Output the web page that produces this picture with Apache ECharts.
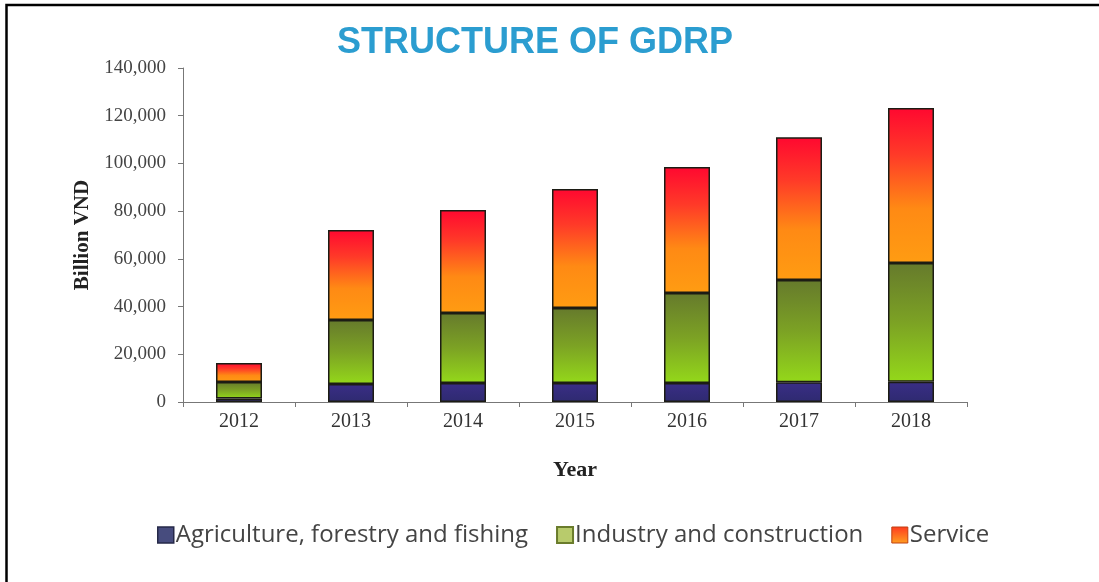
<!DOCTYPE html>
<html>
<head>
<meta charset="utf-8">
<script src="https://cdn.jsdelivr.net/npm/echarts@6/dist/echarts.min.js"></script>
<style>
html,body{margin:0;padding:0;background:#fff;}
#chart{width:1099px;height:582px;}
</style>
</head>
<body>
<div id="chart"></div>
<script>
const years = ['2012','2013','2014','2015','2016','2017','2018'];
const agriculture = [1500, 7500, 8000, 8000, 8000, 8300, 8500];
const industry = [6900, 26900, 29300, 31400, 37700, 42800, 49800];
const service = [7900, 37700, 43200, 49900, 52800, 59900, 64900];
const seriesNames = ['Agriculture, forestry and fishing', 'Industry and construction', 'Service'];

const grad = (stops) => new echarts.graphic.LinearGradient(0, 0, 0, 1, stops.map(s => ({offset: s[0], color: s[1]})));

const agriColor = grad([[0, '#3a2e86'], [1, '#2e2a70']]);
const indColor = grad([[0, '#667a2c'], [0.5, '#7ca224'], [1, '#94d81a']]);
const servColor = grad([[0, '#ff0830'], [0.3, '#ff3a28'], [0.65, '#ff8a14'], [1, '#ff9c12']]);

const chart = echarts.init(document.getElementById('chart'));
const barStyle = (c) => ({color: c, borderColor: '#1c1c14', borderWidth: 1.5});
const serif = 'Liberation Serif, Times New Roman';

chart.setOption({
  animation: false,
  backgroundColor: '#fff',
  title: {
    text: 'STRUCTURE OF GDRP',
    left: 530, textAlign: 'center', top: 20,
    textStyle: {fontFamily: 'Liberation Sans, Arial', fontWeight: 'bold', fontSize: 36, color: '#2b9dd0'}
  },
  graphic: [{
    type: 'rect', shape: {x: 6.5, y: 5, width: 1200, height: 700},
    style: {fill: 'none', stroke: '#000', lineWidth: 2.5}, z: 100
  }],
  legend: {
    data: [
      {name: seriesNames[0], itemStyle: {color: '#474c7e', borderColor: '#262948', borderWidth: 1.5}},
      {name: seriesNames[1], itemStyle: {color: '#b8cb6c', borderColor: '#6a7c2c', borderWidth: 2}},
      {name: seriesNames[2], itemStyle: {color: grad([[0, '#ff3a20'], [1, '#ffa020']]), borderColor: '#c04010', borderWidth: 1}}
    ],
    left: 152, top: 518,
    icon: 'rect', itemWidth: 16, itemHeight: 16, itemGap: 28,
    textStyle: {fontFamily: 'Open Sans', fontSize: 24, color: '#444', padding: [0, 0, 0, -3]}
  },
  grid: {left: 183, right: 132, top: 68, bottom: 180},
  xAxis: {
    type: 'category', data: years,
    name: 'Year', nameLocation: 'middle', nameGap: 57,
    nameTextStyle: {fontFamily: serif, fontWeight: 'bold', fontSize: 22, color: '#222'},
    axisLine: {lineStyle: {color: '#777', width: 1}},
    axisTick: {show: true, alignWithLabel: false, length: 5, lineStyle: {color: '#777'}},
    axisLabel: {fontFamily: serif, fontSize: 20, color: '#333', margin: 10}
  },
  yAxis: {
    type: 'value', min: 0, max: 140000, interval: 20000,
    name: 'Billion VND', nameLocation: 'middle', nameGap: 84,
    nameTextStyle: {fontFamily: serif, fontWeight: 'bold', fontSize: 21, color: '#222'},
    axisLine: {show: true, lineStyle: {color: '#777', width: 1}},
    axisTick: {show: true, length: 5, lineStyle: {color: '#777'}},
    splitLine: {show: false},
    axisLabel: {
      fontFamily: serif, fontSize: 19, color: '#444', margin: 17,
      formatter: v => v.toLocaleString('en-US')
    }
  },
  series: [
    {name: seriesNames[0], type: 'bar', stack: 'g', data: agriculture, barWidth: 46, itemStyle: barStyle(agriColor)},
    {name: seriesNames[1], type: 'bar', stack: 'g', data: industry, barWidth: 46, itemStyle: barStyle(indColor)},
    {name: seriesNames[2], type: 'bar', stack: 'g', data: service, barWidth: 46, itemStyle: barStyle(servColor)}
  ]
});
</script>
</body>
</html>
